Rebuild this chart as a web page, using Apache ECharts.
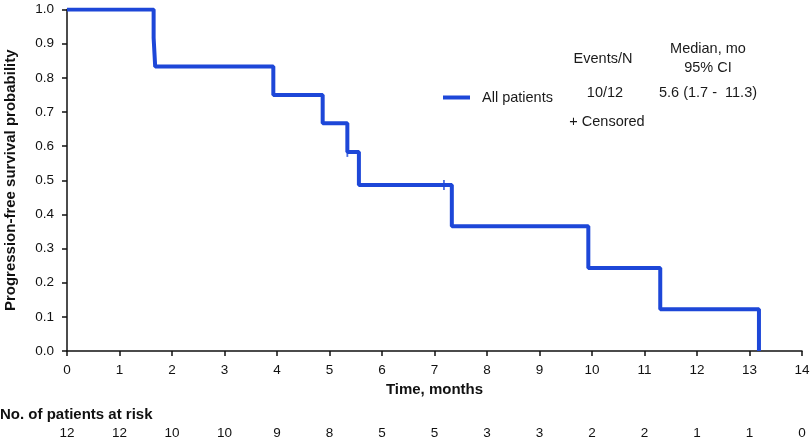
<!DOCTYPE html>
<html>
<head>
<meta charset="utf-8">
<script src="https://cdn.jsdelivr.net/npm/echarts@6/dist/echarts.min.js"></script>
<style>
  html, body { margin: 0; padding: 0; background: #fff; }
  #chart { width: 810px; height: 443px; }
</style>
</head>
<body>
<div id="chart"></div>
<script>
// KM curve: event times (months) and survival after each event
var eventTimes = [0, 1.65, 1.68, 3.93, 4.87, 5.34, 5.56, 7.33, 9.93, 11.3, 13.18];
var survival = [1.0, 0.917, 0.833, 0.75, 0.667, 0.583, 0.486, 0.365, 0.243, 0.122, 0.0];
// censored patients
var censorTimes = [5.34, 7.18];
var censorSurv = [0.583, 0.486];
// number at risk at each month 0..14
var riskMonths = [0, 1, 2, 3, 4, 5, 6, 7, 8, 9, 10, 11, 12, 13, 14];
var atRisk = [12, 12, 10, 10, 9, 8, 5, 5, 3, 3, 2, 2, 1, 1, 0];

var lineColor = '#1d47d8';
var font = 'Liberation Sans, Arial, Helvetica, sans-serif';

var kmData = eventTimes.map(function (t, i) { return [t, survival[i]] })
var censorData = censorTimes.map(function (t, i) { return [t, censorSurv[i]] })

var chart = echarts.init(document.getElementById('chart'))

var option = {
  animation: false,
  backgroundColor: '#fff',
  textStyle: { fontFamily: font },
  grid: [
    { left: 67, right: 8, top: 9.5, bottom: 92, outerBoundsMode: 'none', containLabel: false },
    { left: 67, right: 8, top: 424, height: 1, outerBoundsMode: 'none', containLabel: false }
  ],
  legend: {
    data: ['All patients'],
    left: 438,
    top: 85,
    icon: 'rect',
    itemWidth: 27,
    itemHeight: 4,
    textStyle: { fontSize: 14.5, color: '#1a1a1a', fontFamily: font, padding: [0, 0, 0, 7] }
  },
  xAxis: [
    {
      gridIndex: 0,
      type: 'value',
      min: 0,
      max: 14,
      interval: 1,
      offset: 3,
      name: 'Time, months',
      nameLocation: 'middle',
      nameGap: 28,
      nameTextStyle: { fontSize: 15, fontWeight: 'bold', color: '#111', verticalAlign: 'top' },
      axisLine: { lineStyle: { color: '#111', width: 1.5 } },
      axisTick: { show: true, length: 5, lineStyle: { color: '#111', width: 1.5 } },
      axisLabel: { fontSize: 13.5, color: '#111', margin: 9 },
      splitLine: { show: false }
    },
    {
      gridIndex: 1,
      type: 'value',
      min: 0,
      max: 14,
      interval: 1,
      axisLine: { show: false },
      axisTick: { show: false },
      splitLine: { show: false },
      axisLabel: {
        fontSize: 13.5,
        color: '#111',
        margin: 1,
        showMinLabel: true,
        showMaxLabel: true,
        formatter: function (v) {
          var idx = riskMonths.indexOf(Math.round(v))
          return idx >= 0 ? String(atRisk[idx]) : ''
        }
      }
    }
  ],
  yAxis: [
    {
      gridIndex: 0,
      type: 'value',
      min: 0,
      max: 1,
      interval: 0.1,
      offset: 4,
      name: 'Progression-free survival probability',
      nameLocation: 'middle',
      nameGap: 45,
      nameTextStyle: { fontSize: 15, fontWeight: 'bold', color: '#111' },
      axisLine: { show: true, lineStyle: { color: '#111', width: 1.5 } },
      axisTick: { show: true, length: 5, lineStyle: { color: '#111', width: 1.5 } },
      axisLabel: {
        fontSize: 13.5,
        color: '#111',
        margin: 9,
        formatter: function (v) { return v.toFixed(1) }
      },
      splitLine: { show: false }
    },
    {
      gridIndex: 1,
      type: 'value',
      show: false
    }
  ],
  series: [
    {
      name: 'All patients',
      type: 'line',
      step: 'end',
      xAxisIndex: 0,
      yAxisIndex: 0,
      symbol: 'none',
      lineStyle: { color: lineColor, width: 4 },
      itemStyle: { color: lineColor },
      data: kmData
    },
    {
      name: 'Censored',
      type: 'scatter',
      xAxisIndex: 0,
      yAxisIndex: 0,
      symbol: 'rect',
      symbolSize: [1.8, 10],
      itemStyle: { color: lineColor },
      data: censorData,
      z: 3
    }
  ],
  graphic: [
    { type: 'text', style: { x: 603, y: 59, text: 'Events/N', fontSize: 14.5, fill: '#1a1a1a', fontFamily: font, textAlign: 'center', textVerticalAlign: 'middle' } },
    { type: 'text', style: { x: 708, y: 49, text: 'Median, mo', fontSize: 14.5, fill: '#1a1a1a', fontFamily: font, textAlign: 'center', textVerticalAlign: 'middle' } },
    { type: 'text', style: { x: 708, y: 68, text: '95% CI', fontSize: 14.5, fill: '#1a1a1a', fontFamily: font, textAlign: 'center', textVerticalAlign: 'middle' } },
    { type: 'text', style: { x: 605, y: 93, text: '10/12', fontSize: 14.5, fill: '#1a1a1a', fontFamily: font, textAlign: 'center', textVerticalAlign: 'middle' } },
    { type: 'text', style: { x: 708, y: 93, text: '5.6 (1.7 -  11.3)', fontSize: 14.5, fill: '#1a1a1a', fontFamily: font, textAlign: 'center', textVerticalAlign: 'middle' } },
    { type: 'text', style: { x: 607, y: 122, text: '+ Censored', fontSize: 14.5, fill: '#1a1a1a', fontFamily: font, textAlign: 'center', textVerticalAlign: 'middle' } },
    { type: 'text', style: { x: 0, y: 415, text: 'No. of patients at risk', fontSize: 15, fontWeight: 'bold', fill: '#111', fontFamily: font, textAlign: 'left', textVerticalAlign: 'middle' } }
  ]
}

chart.setOption(option)
</script>
</body>
</html>
